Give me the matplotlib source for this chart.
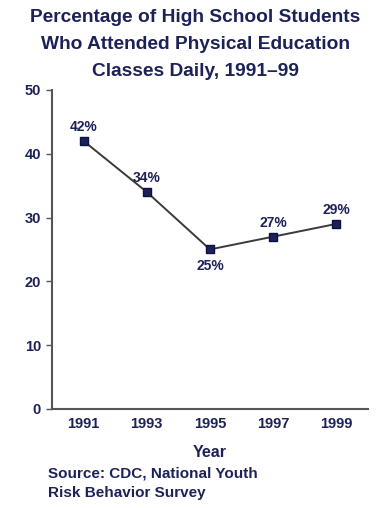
import matplotlib
matplotlib.use("Agg")
import matplotlib.pyplot as plt

years = [1991, 1993, 1995, 1997, 1999]
values = [42, 34, 25, 27, 29]
labels = ["42%", "34%", "25%", "27%", "29%"]
label_pos = ["above", "above", "below", "above", "above"]
yticks = [0, 10, 20, 30, 40, 50]

navy = "#1c2158"
fam = ["Liberation Sans", "DejaVu Sans"]

fig = plt.figure(figsize=(3.91, 5.08), dpi=100)
ax = fig.add_axes([0.133, 0.195, 0.808, 0.628])

ax.plot(years, values, color="#3a3a3a", lw=1.4, zorder=2)
ax.plot(years, values, ls="none", marker="s", ms=6, mfc=navy, mec="#0d1040", mew=1.0, zorder=3)

for x, v, t, p in zip(years, values, labels, label_pos):
    if p == "above":
        ax.annotate(t, (x, v), xytext=(0, 5), textcoords="offset points", ha="center", va="bottom",
                    fontsize=10, fontweight="bold", color=navy, family=fam)
    else:
        ax.annotate(t, (x, v), xytext=(0, -7), textcoords="offset points", ha="center", va="top",
                    fontsize=10, fontweight="bold", color=navy, family=fam)

ax.set_xlim(1990, 2000)
ax.set_ylim(0, 50)
ax.set_xticks(years)
ax.set_xticklabels([str(y) for y in years], fontsize=10.5, fontweight="bold", color=navy, family=fam)
ax.set_yticks(yticks)
ax.set_yticklabels([str(y) for y in yticks], fontsize=10.5, fontweight="bold", color=navy, family=fam)
ax.tick_params(axis="x", length=0, pad=6)
ax.tick_params(axis="y", length=4, width=1, color="#555555", pad=4, direction="out")

for s in ["top", "right"]:
    ax.spines[s].set_visible(False)
for s in ["left", "bottom"]:
    ax.spines[s].set_color("#555555")
    ax.spines[s].set_linewidth(1.5)

ax.set_xlabel("Year", fontsize=11.5, fontweight="bold", color=navy, family=fam, labelpad=10)

fig.text(0.5, 0.982, "Percentage of High School Students\nWho Attended Physical Education\nClasses Daily, 1991\u201399",
         ha="center", va="top", fontsize=13.8, fontweight="bold", color=navy, family=fam, linespacing=1.75)

fig.text(0.123, 0.049, "Source: CDC, National Youth\nRisk Behavior Survey", ha="left", va="center",
         fontsize=11, fontweight="bold", color=navy, family=fam, linespacing=1.55)

fig.savefig("out.png", dpi=100)
